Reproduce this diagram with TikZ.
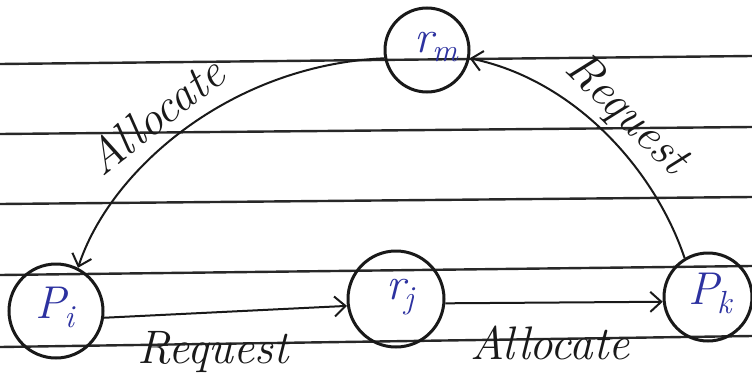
\documentclass[tikz,border=0pt]{standalone}
\usetikzlibrary{arrows.meta}
\definecolor{ink}{RGB}{25,25,25}
\definecolor{blueink}{RGB}{45,50,160}
\definecolor{rule}{RGB}{40,40,40}
\newcommand{\subsc}[1]{\raisebox{-9pt}{\fontsize{32}{34}\selectfont #1}}
\begin{document}
\begin{tikzpicture}[x=1pt,y=-1pt,
  ruled/.style={draw=rule,line width=2.4pt},
  state/.style={circle,draw=ink,line width=3pt,inner sep=0pt},
  lab/.style={text=blueink,font=\fontsize{46}{50}\selectfont\itshape},
  conn/.style={draw=ink,line width=2pt,-{Straight Barb[length=11pt,width=20pt]}},
  elab/.style={text=ink,font=\fontsize{47}{50}\selectfont\itshape,inner sep=0pt},
]
\useasboundingbox (0,0) rectangle (752,383);
\fill[white] (0,0) rectangle (752,383);
% ruled paper lines
\draw[ruled] (0,64) -- (752,56);
\draw[ruled] (0,134) -- (752,127);
\draw[ruled] (0,204) -- (752,197);
\draw[ruled] (0,275) -- (752,266);
\draw[ruled] (0,347) -- (752,336);
% nodes
\node[state,minimum size=84pt] (rm) at (427,50) {};
\node[state,minimum size=94pt] (Pi) at (56,311) {};
\node[state,minimum size=96pt] (rj) at (396,299) {};
\node[state,minimum size=88pt] (Pk) at (708,297) {};
\node[lab] (lrm) at (436,47) {r\kern-1pt\subsc{m}};
\node[lab] (lPi) at (55,307) {P\kern-2pt\subsc{i}};
\node[lab] (lrj) at (400,297) {r\kern-1pt\subsc{j}};
\node[lab] (lPk) at (710,293) {P\kern-2pt\subsc{k}};
% connectors
\draw[conn] (rm.191) .. controls (230,65) and (110,170) .. (Pi.63);
\draw[conn] (Pk.121) .. controls (655,170) and (575,80) .. (rm.-11);
\draw[conn] (Pi.-8) -- (rj.188);
\draw[conn] (rj.-5) -- (Pk.186);
% connector labels
\node[elab,rotate=38] (a1) at (155,115) {Allocate};
\node[elab,rotate=-44] (r1) at (626,115) {Request};
\node[elab] (r2) at (213,352) {Request};
\node[elab] (a2) at (550,343) {Allocate};
\end{tikzpicture}
\end{document}
